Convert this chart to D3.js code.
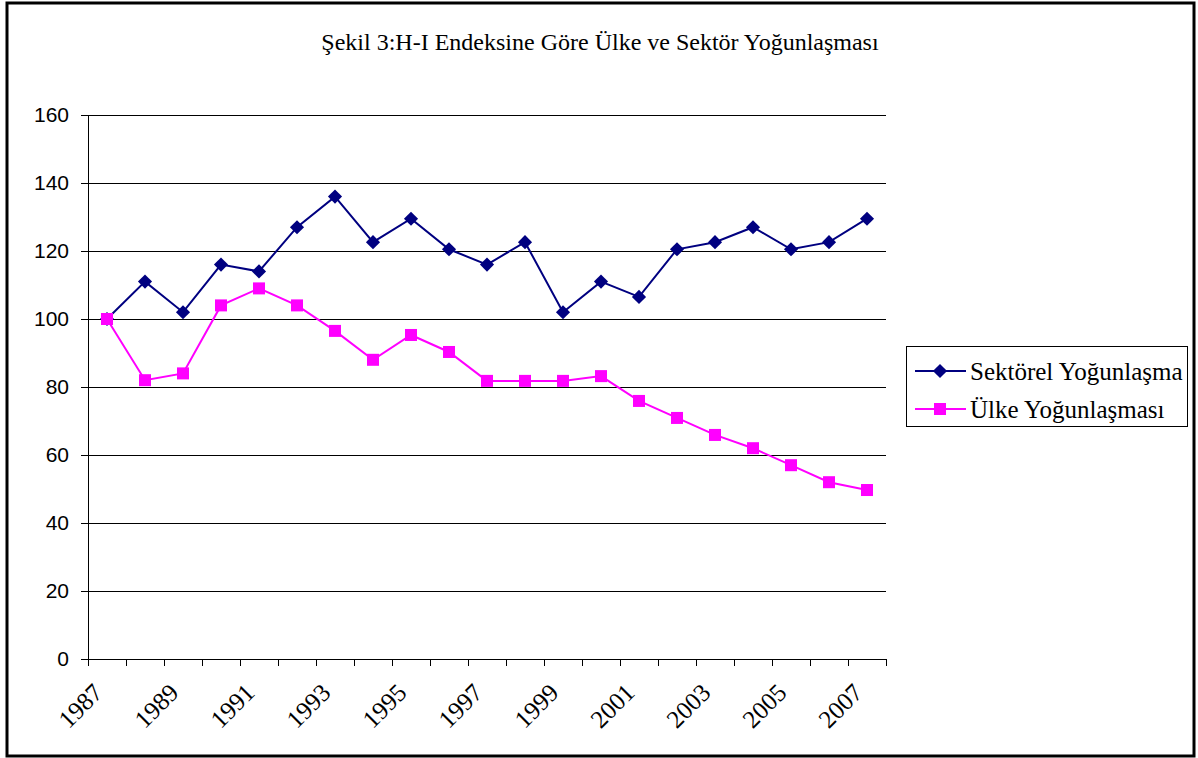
<!DOCTYPE html>
<html>
<head>
<meta charset="utf-8">
<script src="https://cdn.jsdelivr.net/npm/d3@7"></script>
<style>
  body { margin: 0; background: #fff; }
</style>
</head>
<body>
<div id="chart"></div>
<script>
// data
const years = d3.range(1987, 2008)
const sektorel = [100, 111, 102, 116, 114, 127, 136, 122.6, 129.5, 120.5, 116, 122.6, 102, 111, 106.5, 120.5, 122.6, 127, 120.5, 122.6, 129.5]
const ulke = [100, 82, 84, 104, 109, 104, 96.5, 88, 95.3, 90.3, 81.8, 81.8, 81.8, 83.2, 75.9, 70.9, 65.9, 62, 57, 52, 49.7]
const yTicks = [0, 20, 40, 60, 80, 100, 120, 140, 160]
const seriesNames = ['Sektörel Yoğunlaşma', 'Ülke Yoğunlaşması']

const width = 1198, height = 758
const plot = { left: 88, right: 886, top: 115, bottom: 659 }
const serif = '"Liberation Serif", "Times New Roman", serif'

const svg = d3.select('#chart').append('svg')
  .attr('width', width)
  .attr('height', height)

// outer frame
svg.append('rect')
  .attr('x', 7).attr('y', 3)
  .attr('width', 1187).attr('height', 753)
  .attr('fill', 'none')
  .attr('stroke', '#000')
  .attr('stroke-width', 3)

// title
svg.append('text')
  .attr('x', 600).attr('y', 50)
  .attr('text-anchor', 'middle')
  .style('font-family', serif)
  .style('font-size', '24px')
  .text('Şekil 3:H-I Endeksine Göre Ülke ve Sektör Yoğunlaşması')

// scales
const x = d3.scaleBand()
  .domain(years)
  .range([plot.left, plot.right])

const y = d3.scaleLinear()
  .domain([0, 160])
  .range([plot.bottom, plot.top])

// gridlines
svg.append('g')
  .selectAll('line')
  .data(yTicks.filter(d => d > 0))
  .join('line')
  .attr('x1', plot.left).attr('x2', plot.right)
  .attr('y1', d => y(d)).attr('y2', d => y(d))
  .attr('stroke', '#000')
  .attr('stroke-width', 1)
  .attr('shape-rendering', 'crispEdges')

// y axis
const yAxis = svg.append('g')
  .attr('transform', `translate(${plot.left},0)`)
  .call(d3.axisLeft(y).tickValues(yTicks).tickSize(7).tickSizeOuter(0).tickPadding(12))
yAxis.selectAll('text')
  .style('font-family', '"Liberation Sans", Arial, sans-serif')
  .style('font-size', '21px')
  .attr('fill', '#000')
yAxis.selectAll('line, path').attr('stroke', '#000').attr('shape-rendering', 'crispEdges')

// x axis: ticks between categories
const xAxisG = svg.append('g')
  .attr('transform', `translate(0,${plot.bottom})`)
xAxisG.append('line')
  .attr('x1', plot.left).attr('x2', plot.right)
  .attr('stroke', '#000')
  .attr('shape-rendering', 'crispEdges')
const tickPos = years.map(d => x(d)).concat([x(years[years.length - 1]) + x.bandwidth()])
xAxisG.selectAll('.tick')
  .data(tickPos)
  .join('line')
  .attr('class', 'tick')
  .attr('x1', d => d).attr('x2', d => d)
  .attr('y1', 0).attr('y2', 7)
  .attr('stroke', '#000')
  .attr('shape-rendering', 'crispEdges')

xAxisG.selectAll('text')
  .data(years.filter((d, i) => i % 2 === 0))
  .join('text')
  .attr('transform', d => `translate(${x(d) + x.bandwidth() / 2 - 9},${29}) rotate(-45)`)
  .attr('text-anchor', 'end')
  .attr('dy', '0.35em')
  .style('font-family', serif)
  .style('font-size', '25px')
  .text(d => d)

// lines
const cx = (d, i) => x(years[i]) + x.bandwidth() / 2
const line = d3.line().x(cx).y(d => y(d))

svg.append('path')
  .datum(ulke)
  .attr('d', line)
  .attr('fill', 'none')
  .attr('stroke', '#ff00ff')
  .attr('stroke-width', 2)

svg.append('path')
  .datum(sektorel)
  .attr('d', line)
  .attr('fill', 'none')
  .attr('stroke', '#000080')
  .attr('stroke-width', 2)

const diamond = d3.symbol().type(d3.symbolSquare).size(100)

svg.append('g')
  .selectAll('path')
  .data(sektorel)
  .join('path')
  .attr('d', diamond)
  .attr('transform', (d, i) => `translate(${cx(d, i)},${y(d)}) rotate(45)`)
  .attr('fill', '#000080')

svg.append('g')
  .selectAll('rect')
  .data(ulke)
  .join('rect')
  .attr('x', (d, i) => cx(d, i) - 6)
  .attr('y', d => y(d) - 6)
  .attr('width', 12).attr('height', 12)
  .attr('fill', '#ff00ff')

// legend
const legend = svg.append('g')
legend.append('rect')
  .attr('x', 906.5).attr('y', 346.5)
  .attr('width', 281).attr('height', 80)
  .attr('fill', '#fff')
  .attr('stroke', '#000')

const legendItems = legend.selectAll('.item')
  .data(seriesNames)
  .join('g')
  .attr('class', 'item')
  .attr('transform', (d, i) => `translate(0,${371 + i * 38})`)

legendItems.append('line')
  .attr('x1', 915).attr('x2', 966)
  .attr('stroke', (d, i) => i === 0 ? '#000080' : '#ff00ff')
  .attr('stroke-width', 2)

legendItems.append('path')
  .attr('d', (d, i) => i === 0 ? diamond() : d3.symbol().type(d3.symbolSquare).size(144)())
  .attr('transform', (d, i) => `translate(940,0) rotate(${i === 0 ? 45 : 0})`)
  .attr('fill', (d, i) => i === 0 ? '#000080' : '#ff00ff')

legendItems.append('text')
  .attr('x', 970)
  .attr('dy', '0.35em')
  .style('font-family', serif)
  .style('font-size', '25px')
  .text(d => d)
</script>
</body>
</html>
